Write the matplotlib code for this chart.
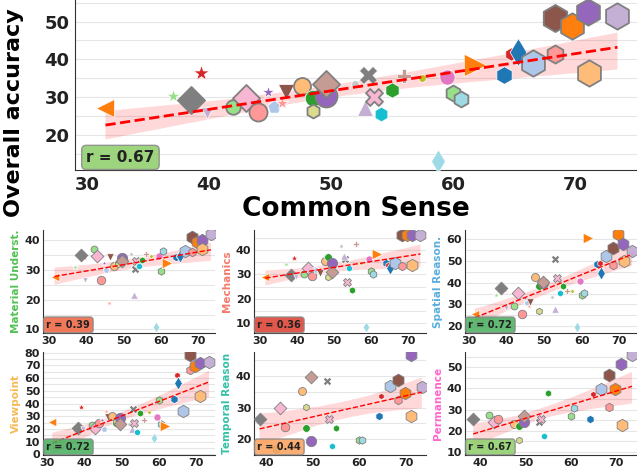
import numpy as np
import matplotlib
matplotlib.use("Agg")
import matplotlib.pyplot as plt
from matplotlib.ticker import MultipleLocator
import seaborn as sns

# common sense score of every model (x axis everywhere)
common_sense = [31.5, 37.0, 39.3, 38.5, 39.8, 42.0, 43.0, 44.0, 44.8, 45.3,
                46.0, 46.3, 47.6, 48.5, 48.5, 49.6, 49.6, 52.0, 53.0, 52.8,
                53.5, 54.1, 55.0, 56.0, 57.5, 59.5, 58.8, 60.0, 60.7, 61.8,
                64.2, 64.8, 65.3, 66.6, 68.4, 68.4, 69.8, 71.1, 71.2, 73.5]
overall = [27.0, 30.3, 36.5, 29.3, 25.8, 27.3, 29.8, 26.0, 31.3, 27.5,
           28.5, 31.3, 33.0, 29.8, 26.3, 30.3, 33.5, 33.5, 35.8, 27.0,
           30.0, 25.5, 31.8, 35.5, 35.0, 35.3, 13.0, 31.0, 29.5, 38.5,
           35.8, 41.5, 42.0, 39.0, 41.5, 51.0, 48.7, 52.5, 36.3, 51.5]
material = [27.7, 31.0, 34.4, 35.0, 26.6, 36.9, 34.6, 26.6, 32.2, 30.0,
            18.8, 34.2, 31.3, 32.2, 32.0, 33.9, 33.0, 35.5, 30.2, 21.6,
            33.0, 31.3, 33.3, 35.3, 34.6, 34.6, 10.7, 29.6, 36.3, 32.2,
            34.2, 34.5, 34.6, 36.4, 35.9, 41.1, 39.4, 40.2, 36.9, 42.0]
mechanics = [28.8, 34.1, 36.6, 29.8, 29.1, 30.0, 32.5, 29.4, 32.5, 32.0,
             31.5, 30.5, 35.6, 37.0, 29.1, 34.6, 30.8, 41.6, 36.2, 37.6,
             26.8, 32.8, 23.7, 42.4, 34.8, 36.2, 8.3, 31.6, 30.1, 38.2,
             34.8, 34.0, 32.8, 34.6, 33.6, 46.0, 46.0, 46.0, 33.9, 46.0]
spatial = [25.4, 34.3, 37.1, 37.7, 28.5, 29.4, 35.4, 25.5, 33.0, 30.8,
           29.2, 31.2, 42.8, 38.5, 27.0, 39.7, 40.5, 33.2, 50.8, 27.7,
           42.0, 35.4, 38.5, 36.2, 36.3, 40.9, 19.7, 34.3, 35.4, 60.5,
           48.6, 48.9, 44.3, 52.5, 48.2, 55.8, 62.3, 57.8, 50.2, 54.8]
viewpoint = [25.6, 21.0, 37.6, 21.0, 20.2, 22.9, 21.0, 24.8, 27.0, 20.2,
             34.2, 29.6, 30.1, 24.8, 26.0, 28.8, 24.2, 23.7, 35.5, 20.2,
             24.8, 17.3, 32.8, 27.0, 33.6, 29.6, 12.7, 43.0, 24.2, 22.4,
             43.5, 62.6, 55.9, 34.4, 66.6, 77.9, 69.8, 72.0, 46.2, 73.0]
temporal = [None, None, None, 26.3, None, 17.0, 29.8, 24.0, None, None,
            None, None, 35.1, 23.5, 30.1, 19.5, 39.8, None, 38.4, None,
            26.4, 17.7, 23.7, None, None, None, None, 19.8, 19.8, None,
            27.4, 33.8, None, 36.8, 32.4, 38.7, 34.5, 46.6, 27.2, 36.6]
permanence = [None, None, None, 25.5, None, 27.4, 24.2, 25.4, None, None,
              None, None, 23.1, 22.2, 15.6, 24.2, 26.9, None, 23.9, None,
              25.5, 17.5, 37.7, None, None, None, None, 27.1, 30.6, None,
              25.4, 37.2, None, 39.6, 31.4, 46.4, 39.7, 51.6, 22.7, 55.8]

sub_names = ["Material Underst.", "Mechanics", "Spatial Reason.",
             "Viewpoint", "Temporal Reason", "Permanence"]
sub_values = [material, mechanics, spatial, viewpoint, temporal, permanence]
r_main = 0.67
r_sub = [0.39, 0.36, 0.72, 0.72, 0.44, 0.67]

# marker style of each model
markers = ['<', '*', '*', 'D', 'v', 'o', 'D', 'o', '*', 'p',
           '*', 'v', 'o', 'o', 'h', 'o', 'D', 'o', 'X', '^',
           'X', 'h', 'h', 'P', 'o', 'o', 'd', 'h', 'h', '>',
           'h', 'h', 'd', 'h', 'h', 'h', 'h', 'h', 'h', 'h']
colors = ['#ff7f0e', '#98df8a', '#d62728', '#7f7f7f', '#c5b0d5', '#98df8a', '#f7b6d2', '#ff9896', '#9467bd', '#aec7e8',
          '#ff9896', '#8c564b', '#ffbb78', '#2ca02c', '#dbdb8d', '#9467bd', '#c49c94', '#c7c7c7', '#7f7f7f', '#c5b0d5',
          '#f7b6d2', '#17becf', '#2ca02c', '#c49c94', '#bcbd22', '#e377c2', '#9edae5', '#98df8a', '#9edae5', '#ff7f0e',
          '#1f77b4', '#d62728', '#1f77b4', '#aec7e8', '#ff9896', '#8c564b', '#ff7f0e', '#9467bd', '#ffbb78', '#c5b0d5']
sizes = [170, 100, 140, 190, 70, 110, 190, 170, 80, 100,
         90, 130, 150, 140, 100, 250, 190, 30, 170, 130,
         150, 110, 120, 100, 30, 120, 140, 130, 130, 260,
         160, 90, 200, 360, 170, 380, 360, 360, 360, 360]
gray_edge = [0, 0, 0, 1, 0, 1, 1, 1, 0, 0,
             0, 0, 1, 0, 1, 1, 1, 0, 0, 0,
             1, 0, 0, 0, 0, 0, 0, 1, 1, 0,
             0, 0, 0, 1, 1, 1, 1, 1, 1, 1]

label_colors = ['#52c152', '#f47a6a', '#5aaee0', '#f7b955', '#33c0a6', '#ff66cc']

cmap = plt.get_cmap('RdYlGn')


def r_color(r):
    return cmap((r - 0.3) / 0.5)


def draw(ax, xs, ys, scale, lw_line, fs_r, r):
    pts_x, pts_y = [], []
    for i in range(len(xs)):
        if ys[i] is None:
            continue
        pts_x.append(xs[i])
        pts_y.append(ys[i])
        ec = '#808080' if gray_edge[i] else 'white'
        ax.scatter(xs[i], ys[i], marker=markers[i], s=sizes[i] * scale, color=colors[i],
                   edgecolor=ec, linewidth=1.3 * np.sqrt(scale) if gray_edge[i] else 0.5, zorder=3)
    sns.regplot(x=np.array(pts_x), y=np.array(pts_y), ax=ax, scatter=False, color='red',
                ci=95, seed=0, line_kws=dict(ls='--', lw=lw_line, zorder=4))
    ax.text(0.02, 0.03, "r = %.2f" % r, transform=ax.transAxes, fontsize=fs_r, fontweight='bold',
            ha='left', va='bottom', color='#222222', zorder=5,
            bbox=dict(boxstyle='round,pad=0.3', fc=r_color(r), ec='#888888', alpha=0.85))
    ax.set_xlabel("")
    ax.set_ylabel("")
    for s in ['top', 'right']:
        ax.spines[s].set_visible(False)
    for s in ['left', 'bottom']:
        ax.spines[s].set_color('#333333')
    ax.grid(False)
    ax.yaxis.grid(True, which='both', color='#e6e6e6', lw=0.8, zorder=0)
    ax.set_axisbelow(True)


fig = plt.figure(figsize=(6.37, 4.70), dpi=100)
W, H = 637.0, 470.0

ax = fig.add_axes([75 / W, 1 - 170 / H, (W - 75) / W, 170 / H])
draw(ax, common_sense, overall, 1.0, 2.0, 11, r_main)
ax.set_xlim(29.0, 75.1)
ax.set_ylim(10.7, 55.7)
ax.xaxis.set_major_locator(MultipleLocator(10))
ax.yaxis.set_major_locator(MultipleLocator(10))
ax.yaxis.set_minor_locator(MultipleLocator(5))
ax.tick_params(axis='both', which='major', labelsize=13, length=0, pad=4)
ax.tick_params(axis='y', which='minor', length=0)
for t in ax.get_xticklabels() + ax.get_yticklabels():
    t.set_fontweight('bold')
    t.set_color('#222222')
ax.set_xlabel("Common Sense", fontsize=19, fontweight='bold', labelpad=2)
ax.set_ylabel("Overall accuracy", fontsize=16, fontweight='bold')
ax.yaxis.set_label_coords(-0.09, 0.34)

lefts = [43, 254, 465]
tops = [230, 352]
xlims = [(28.4, 74.6), (28.4, 75.0), (28.85, 74.8), (29.0, 75.1), (37.3, 74.4), (36.7, 74.6)]
ylims = [(8.8, 43.4), (6.0, 48.2), (16.8, 64.3), (-0.4, 80.5), (15.0, 47.6), (8.4, 57.3)]

for k in range(6):
    row, col = divmod(k, 3)
    sax = fig.add_axes([lefts[col] / W, 1 - (tops[row] + 103) / H, 172 / W, 103 / H])
    draw(sax, common_sense, sub_values[k], 0.22, 1.0, 7, r_sub[k])
    sax.set_xlim(*xlims[k])
    sax.set_ylim(*ylims[k])
    sax.xaxis.set_major_locator(MultipleLocator(10))
    sax.yaxis.set_major_locator(MultipleLocator(10))
    sax.yaxis.set_minor_locator(MultipleLocator(5))
    sax.tick_params(axis='both', which='major', labelsize=8, length=0, pad=2)
    sax.tick_params(axis='y', which='minor', length=0)
    for t in sax.get_xticklabels() + sax.get_yticklabels():
        t.set_fontweight('bold')
        t.set_color('#222222')
    sax.set_ylabel(sub_names[k], fontsize=7.5, fontweight='bold', color=label_colors[k], labelpad=3)

fig.savefig("out.png", dpi=100)
